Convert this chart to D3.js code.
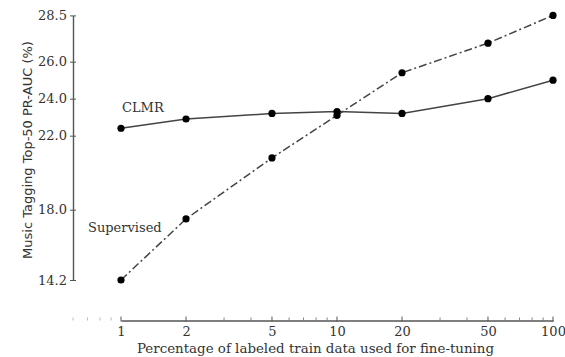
<!DOCTYPE html>
<html>
<head>
<meta charset="utf-8">
<script src="https://cdn.jsdelivr.net/npm/d3@7"></script>
<style>
  body { margin: 0; background: #fff; }
  text { font-family: "DejaVu Serif", serif; }
</style>
</head>
<body>
<div id="chart"></div>
<script>
// labeled train data (%) and PR-AUC values
const percentages = [1, 2, 5, 10, 20, 50, 100];
const clmrScores = [22.4, 22.9, 23.2, 23.3, 23.2, 24.0, 25.0];
const supervisedScores = [14.2, 17.5, 20.8, 23.1, 25.4, 27.0, 28.5];
const yTickValues = [14.2, 18.0, 22.0, 24.0, 26.0, 28.5];
const xTickValues = [1, 2, 5, 10, 20, 50, 100];
const xMinorValues = [3, 4, 6, 7, 8, 9, 30, 40, 60, 70, 80, 90];
const xOutsideMinor = [0.6, 0.7, 0.8, 0.9];

const width = 565;
const height = 357;

const x = d3.scaleLog().domain([1, 100]).range([121, 553]);
const y = d3.scaleLinear().domain([14.2, 28.5]).range([280, 15.4]);

const svg = d3.select('#chart').append('svg')
  .attr('width', width)
  .attr('height', height);

const axisY = 320.5;
const axisX = 73;

// x axis
const gx = svg.append('g')
  .attr('transform', `translate(0, ${axisY})`)
  .call(d3.axisBottom(x).tickValues(xTickValues).tickFormat(d3.format('d')).tickSize(0).tickPadding(6));
gx.select('.domain').attr('stroke', '#555').attr('stroke-width', 1.4);
gx.selectAll('.tick text').attr('font-size', 13).attr('fill', '#333');

gx.selectAll('.major')
  .data(xTickValues)
  .enter().append('line')
  .attr('x1', d => x(d)).attr('x2', d => x(d))
  .attr('y1', -4).attr('y2', 1)
  .attr('stroke', '#555').attr('stroke-width', 1);

gx.selectAll('.minor')
  .data(xMinorValues)
  .enter().append('line')
  .attr('x1', d => x(d)).attr('x2', d => x(d))
  .attr('y1', -3).attr('y2', 0)
  .attr('stroke', '#666').attr('stroke-width', 0.8);

gx.selectAll('.outside')
  .data(xOutsideMinor)
  .enter().append('line')
  .attr('x1', d => x(d)).attr('x2', d => x(d))
  .attr('y1', -3).attr('y2', 0)
  .attr('stroke', '#aaa').attr('stroke-width', 0.8);

// y axis
const gy = svg.append('g')
  .attr('transform', `translate(${axisX}, 0)`)
  .call(d3.axisLeft(y).tickValues(yTickValues).tickFormat(d3.format('.1f')).tickSizeInner(3).tickSizeOuter(0).tickPadding(3));
gy.select('.domain').attr('stroke', '#555').attr('stroke-width', 1.4);
gy.selectAll('.tick line').attr('stroke', '#555').attr('x2', 3).attr('x1', -3);
gy.selectAll('.tick text').attr('font-size', 13).attr('fill', '#333');

// lines
const line = d3.line()
  .x((d, i) => x(percentages[i]))
  .y(d => y(d));

svg.append('path')
  .datum(clmrScores)
  .attr('d', line)
  .attr('fill', 'none')
  .attr('stroke', '#444')
  .attr('stroke-width', 1.5);

svg.append('path')
  .datum(supervisedScores)
  .attr('d', line)
  .attr('fill', 'none')
  .attr('stroke', '#444')
  .attr('stroke-width', 1.5)
  .attr('stroke-dasharray', '8,3,2,3');

// markers
[clmrScores, supervisedScores].forEach(series => {
  svg.selectAll(null)
    .data(series)
    .enter().append('circle')
    .attr('cx', (d, i) => x(percentages[i]))
    .attr('cy', d => y(d))
    .attr('r', 3.6)
    .attr('fill', '#000');
});

// series labels
svg.append('text')
  .attr('x', 122).attr('y', 112)
  .attr('font-size', 13).attr('fill', '#333')
  .text('CLMR');

svg.append('text')
  .attr('x', 88).attr('y', 232)
  .attr('font-size', 13).attr('fill', '#333')
  .text('Supervised');

// axis titles
svg.append('text')
  .attr('x', 315.5).attr('y', 352.5)
  .attr('text-anchor', 'middle')
  .attr('font-size', 13.4).attr('fill', '#333')
  .text('Percentage of labeled train data used for fine-tuning');

svg.append('text')
  .attr('transform', 'translate(32, 150) rotate(-90)')
  .attr('text-anchor', 'middle')
  .attr('font-size', 13)
  .style('font-family', '"DejaVu Sans", sans-serif')
  .attr('fill', '#333')
  .text('Music Tagging Top-50 PR-AUC (%)');
</script>
</body>
</html>
